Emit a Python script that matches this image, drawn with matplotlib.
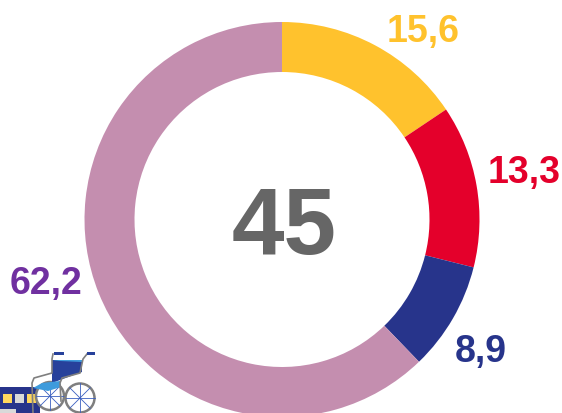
import matplotlib
matplotlib.use("Agg")
import matplotlib.pyplot as plt
from matplotlib.patches import Rectangle, Circle, Polygon
import numpy as np

labels = ["15,6", "13,3", "8,9", "62,2"]
values = [15.6, 13.3, 8.9, 62.2]
colors = ["#FFC22D", "#E4002B", "#27348B", "#C48EAF"]
label_colors = ["#FFC22D", "#E4002B", "#27348B", "#7030A0"]
center_text = "45"

W, H = 562, 414
plt.rcParams['font.family'] = ['Liberation Sans']
fig = plt.figure(figsize=(W/100, H/100), dpi=100)
bg = fig.add_axes([0, 0, 1, 1])
bg.set_xlim(0, W); bg.set_ylim(H, 0); bg.axis("off")

cx, cy, R = 282, 220.5, 197.5
ax = fig.add_axes([(cx-R)/W, 1-(cy+R)/H, 2*R/W, 2*R/H])
ax.pie(values, colors=colors, startangle=90, counterclock=False, radius=1,
       wedgeprops=dict(width=50/197.5, linewidth=0), frame=False)
ax.set_xlim(-1, 1); ax.set_ylim(-1, 1)
for p in ax.patches:
    p.set_clip_on(False)

top = fig.add_axes([0, 0, 1, 1]); top.set_xlim(0, W); top.set_ylim(H, 0); top.axis("off")
pos = [(423.5, 32), (524.5, 173), (481, 352), (46, 284)]
for (x, y), t, c in zip(pos, labels, label_colors):
    top.text(x, y, t, color=c, fontsize=27, fontweight="bold", ha="center", va="center")
top.text(284, 230, center_text, color="#666666", fontsize=68, fontweight="bold", ha="center", va="center", zorder=5)

# train
icon = top
icon.add_patch(Rectangle((0, 388), 40, 26, color="#27348B", lw=0))
for x, c in zip((3, 15, 27), ("#FFD75E", "#D9D9D9", "#FFD75E")):
    icon.add_patch(Rectangle((x, 395), 8.5, 9, color=c, lw=0))
icon.add_patch(Rectangle((0, 410), 16, 4, color="#D9D9D9", lw=0))
# wheels
for (wx, wy, wr) in ((50, 397, 14), (80, 399, 14.5)):
    icon.add_patch(Circle((wx, wy), wr, fc="white", ec="#7F7F7F", lw=1.8, zorder=3))
    for a in np.arange(0, np.pi, np.pi/4):
        icon.plot([wx-wr*np.cos(a), wx+wr*np.cos(a)], [wy-wr*np.sin(a), wy+wr*np.sin(a)],
                  color="#3A5FC0", lw=0.6, zorder=3)
# chair
icon.add_patch(Polygon([(52, 361), (82, 361), (82, 373), (52, 384)], fc="#27419B", lw=0, zorder=4))
icon.add_patch(Polygon([(52, 361), (82, 361), (82, 363), (60, 362)], fc="#3E9BDC", lw=0, zorder=4))
icon.add_patch(Polygon([(33, 389), (42, 384), (60, 382), (61, 388), (48, 392)], fc="#3E9BDC", lw=0, zorder=5))
icon.plot([53, 52, 52, 34, 32, 33], [355, 360, 374, 379, 384, 414], color="#7F7F7F", lw=1.2, zorder=6)
icon.plot([87, 83, 80, 62, 60, 61], [355, 360, 374, 379, 384, 402], color="#7F7F7F", lw=1.2, zorder=6)
icon.add_patch(Rectangle((54, 353), 10, 3, color="#27419B", lw=0, zorder=7))
icon.add_patch(Rectangle((87, 353), 8, 3, color="#27419B", lw=0, zorder=7))

fig.savefig("out.png", dpi=100)
